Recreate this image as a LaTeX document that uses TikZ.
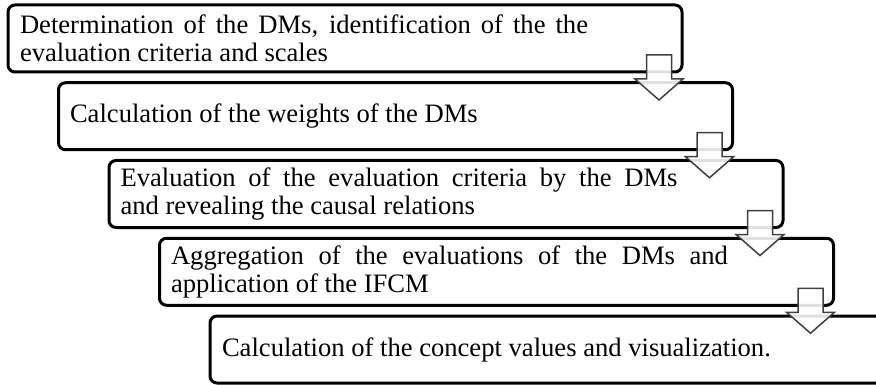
\documentclass[tikz,border=0pt]{standalone}
\usepackage{fontspec}
\setmainfont{Liberation Serif}
\begin{document}
\begin{tikzpicture}[x=1pt,y=-1pt,
  stepbox/.style={draw=black, line width=3pt, rounded corners=7pt, fill=white,
    minimum width=674pt, minimum height=67pt, anchor=north west, inner sep=0pt, outer sep=0pt},
  steptext/.style={anchor=west, inner sep=0pt, outer sep=0pt, align=justify,
    font=\fontsize{26.6}{28}\selectfont},
  blockarrow/.style={draw=black!75, line width=1.5pt, fill=white, fill opacity=0.88, line join=miter}
]
\useasboundingbox (0,0) rectangle (876,385);
\clip (0,0) rectangle (876,385);

\node[stepbox] (b1) at (8,5) {};
\node[stepbox] (b2) at (58.5,82.75) {};
\node[stepbox] (b3) at (109,160.5) {};
\node[stepbox] (b4) at (159.5,238.25) {};
\node[stepbox] (b5) at (210,316) {};

\node[steptext, text width=568pt] (t1) at ([xshift=12pt]b1.west)
  {Determination of the DMs, identification of the the\linebreak evaluation criteria and scales};
\node[steptext, text width=568pt] (t2) at ([xshift=11.5pt]b2.west)
  {Calculation of the weights of the DMs};
\node[steptext, text width=557pt] (t3) at ([xshift=11.5pt]b3.west)
  {Evaluation of the evaluation criteria by the DMs\linebreak and revealing the causal relations};
\node[steptext, text width=557pt] (t4) at ([xshift=11.5pt]b4.west)
  {Aggregation of the evaluations of the DMs and\linebreak application of the IFCM};
\node[steptext, text width=600pt] (t5) at ([xshift=12pt]b5.west)
  {Calculation of the concept values and visualization.};

\foreach \b in {b1,b2,b3,b4}{
  \draw[blockarrow]
    ([shift={(-35.5,-17)}]\b.south east) -- ([shift={(-10.5,-17)}]\b.south east)
    -- ([shift={(-10.5,7)}]\b.south east) -- ([shift={(1,7)}]\b.south east)
    -- ([shift={(-23,28)}]\b.south east) -- ([shift={(-47,7)}]\b.south east)
    -- ([shift={(-35.5,7)}]\b.south east) -- cycle;
}
\end{tikzpicture}
\end{document}
